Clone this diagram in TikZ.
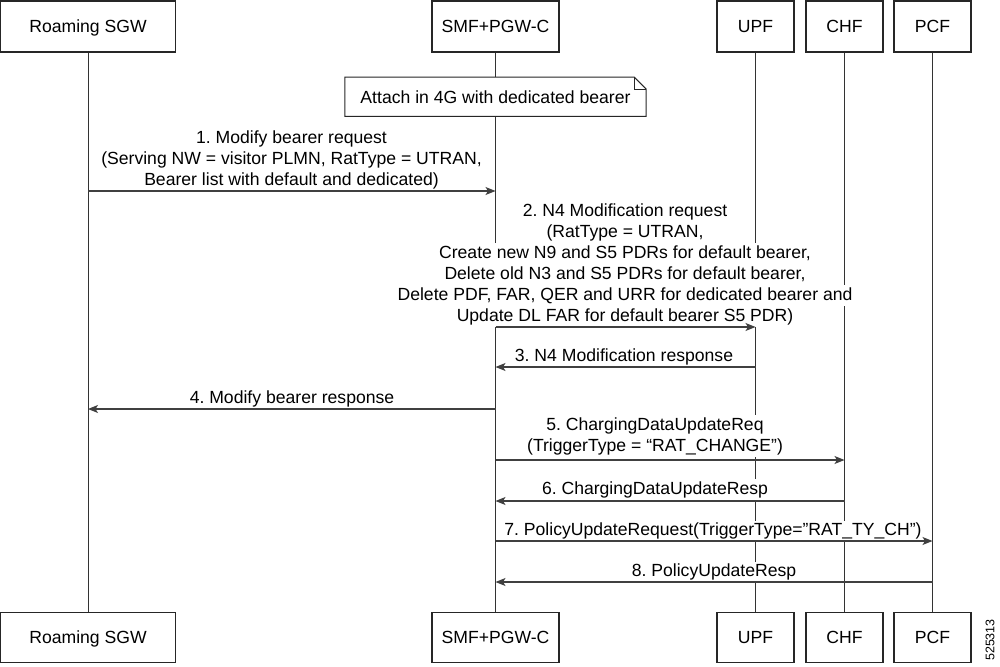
\documentclass[tikz,border=0pt]{standalone}
\usepackage{fontspec}
\setmainfont{Liberation Sans}
\usetikzlibrary{arrows.meta}
\frenchspacing
\newcommand\wl[1]{{\fboxsep=0pt\colorbox{white}{\strut#1}}}
\begin{document}
\begin{tikzpicture}[x=1pt,y=-1pt,
  actor/.style={draw=black!85, line width=1.1pt, fill=white, minimum height=51pt, inner sep=0pt,
    text height=12.6pt, text depth=1pt, font=\fontsize{17.6}{21}\selectfont},
  life/.style={draw=black!80, line width=1pt},
  msg/.style={draw=black!75, line width=1.2pt, -{Stealth[length=10pt,width=8pt,inset=2.5pt]}},
  lbl/.style={align=center, inner sep=0pt, font=\fontsize{17.6}{21}\selectfont},
  notebox/.style={fill=white, draw=none, inner sep=0pt, minimum width=301pt, minimum height=39pt,
    font=\fontsize{17.6}{21}\selectfont}]
\useasboundingbox (0,0) rectangle (1000,666);
% top actors
\node[actor, minimum width=175pt] (sgwT) at (88,26.5) {Roaming SGW};
\node[actor, minimum width=127pt] (smfT) at (495.5,26.5) {SMF+PGW-C};
\node[actor, minimum width=77pt] (upfT) at (755.5,26.5) {UPF};
\node[actor, minimum width=77pt] (chfT) at (844.5,26.5) {CHF};
\node[actor, minimum width=77pt] (pcfT) at (932.5,26.5) {PCF};
% bottom actors
\node[actor, minimum width=175pt, minimum height=50pt] (sgwB) at (88,637.5) {Roaming SGW};
\node[actor, minimum width=127pt, minimum height=50pt] (smfB) at (495.5,637.5) {SMF+PGW-C};
\node[actor, minimum width=77pt, minimum height=50pt] (upfB) at (755.5,637.5) {UPF};
\node[actor, minimum width=77pt, minimum height=50pt] (chfB) at (844.5,637.5) {CHF};
\node[actor, minimum width=77pt, minimum height=50pt] (pcfB) at (932.5,637.5) {PCF};
% lifelines
\draw[life] (sgwT.south) -- (sgwB.north);
\draw[life] (smfT.south) -- (smfB.north);
\draw[life] (upfT.south) -- (upfB.north);
\draw[life] (chfT.south) -- (chfB.north);
\draw[life] (pcfT.south) -- (pcfB.north);
% note
\node[notebox] (note) at (495.5,96.8) {Attach in 4G with dedicated bearer};
\draw[draw=black!85, line width=1pt] (note.north west) -- ([xshift=-12pt]note.north east)
  -- ([yshift=-12pt]note.north east) -- (note.south east) -- (note.south west) -- cycle;
\draw[draw=black!85, line width=1pt] ([xshift=-12pt]note.north east) -- ([xshift=-12pt,yshift=-12pt]note.north east)
  -- ([yshift=-12pt]note.north east);
% labels (base = baseline of last line); white behind each line
\node[lbl, anchor=base] (l1) at (291.5,185) {\wl{1. Modify bearer request}\\\wl{(Serving NW = visitor PLMN, RatType = UTRAN,}\\\wl{Bearer list with default and dedicated)}};
\node[lbl, anchor=base] (l2) at (625,321) {\wl{2. N4 Modification request}\\\wl{(RatType = UTRAN,}\\\wl{Create new N9 and S5 PDRs for default bearer,}\\\wl{Delete old N3 and S5 PDRs for default bearer,}\\\wl{Delete PDF, FAR, QER and URR for dedicated bearer and}\\\wl{Update DL FAR for default bearer S5 PDR)}};
\node[lbl, anchor=base] (l3) at (624,361) {\wl{3. N4 Modification response}};
\node[lbl, anchor=base] (l4) at (292,403.5) {\wl{4. Modify bearer response}};
\node[lbl, anchor=base] (l5) at (655,451) {\wl{5. ChargingDataUpdateReq}\\\wl{(TriggerType = “RAT\_CHANGE”)}};
\node[lbl, anchor=base] (l6) at (655,494) {\wl{6. ChargingDataUpdateResp}};
\node[lbl, anchor=base] (l7) at (713,535.5) {\wl{7. PolicyUpdateRequest(TriggerType=”RAT\_TY\_CH”)}};
\node[lbl, anchor=base] (l8) at (714,576.5) {\wl{8. PolicyUpdateResp}};
% message rows
\coordinate (m1) at (0,191);
\coordinate (m2) at (0,327);
\coordinate (m3) at (0,367);
\coordinate (m4) at (0,409);
\coordinate (m5) at (0,460);
\coordinate (m6) at (0,501);
\coordinate (m7) at (0,541);
\coordinate (m8) at (0,582);
\draw[msg] (sgwT |- m1) -- (smfT |- m1);
\draw[msg] (smfT |- m2) -- (upfT |- m2);
\draw[msg] (upfT |- m3) -- (smfT |- m3);
\draw[msg] (smfT |- m4) -- (sgwT |- m4);
\draw[msg] (smfT |- m5) -- (chfT |- m5);
\draw[msg] (chfT |- m6) -- (smfT |- m6);
\draw[msg] (smfT |- m7) -- (pcfT |- m7);
\draw[msg] (pcfT |- m8) -- (smfT |- m8);
% figure number
\node[rotate=90, inner sep=0pt, font=\fontsize{12.5}{13}\selectfont] (fig) at (990,640) {525313};
\end{tikzpicture}
\end{document}
